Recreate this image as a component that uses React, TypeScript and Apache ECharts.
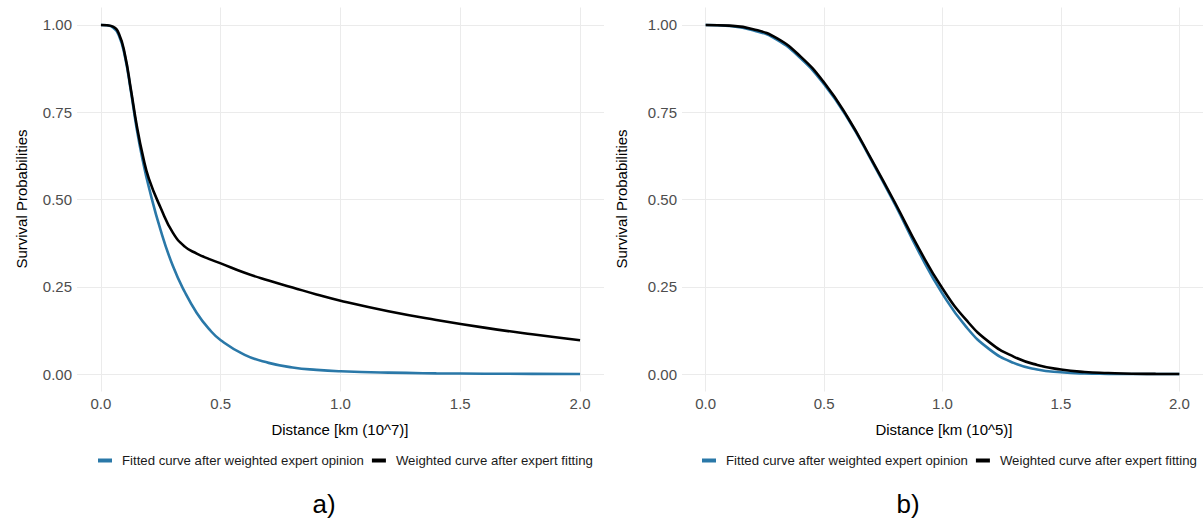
import React, { useEffect, useRef } from "react";
import * as echarts from "echarts";

// Panel a) distances (10^7 km)
const xA = [0, 0.025, 0.05, 0.075, 0.1, 0.125, 0.15, 0.175, 0.2, 0.25, 0.3, 0.35, 0.4, 0.45, 0.5, 0.6, 0.7, 0.8, 0.9, 1.0, 1.2, 1.4, 1.6, 1.8, 2.0];
const fittedA = [1.0, 0.999, 0.993, 0.97, 0.91, 0.81, 0.70, 0.61, 0.535, 0.41, 0.31, 0.235, 0.175, 0.13, 0.097, 0.055, 0.032, 0.019, 0.012, 0.008, 0.004, 0.002, 0.001, 0.0005, 0.0003];
const weightedA = [1.0, 0.999, 0.995, 0.975, 0.915, 0.815, 0.71, 0.625, 0.56, 0.475, 0.405, 0.365, 0.345, 0.33, 0.317, 0.29, 0.268, 0.248, 0.228, 0.21, 0.18, 0.155, 0.133, 0.114, 0.097];

// Panel b) distances (10^5 km)
const xB = [0, 0.1, 0.2, 0.3, 0.4, 0.5, 0.6, 0.7, 0.8, 0.9, 1.0, 1.1, 1.2, 1.3, 1.4, 1.5, 1.6, 1.7, 1.8, 1.9, 2.0];
const fittedB = [1.0, 0.997, 0.985, 0.958, 0.905, 0.83, 0.732, 0.612, 0.485, 0.35, 0.23, 0.135, 0.07, 0.032, 0.013, 0.005, 0.0015, 0.0005, 0.0001, 0, 0];
const weightedB = [1.0, 0.998, 0.988, 0.962, 0.91, 0.835, 0.735, 0.615, 0.49, 0.36, 0.245, 0.155, 0.09, 0.05, 0.026, 0.013, 0.006, 0.003, 0.001, 0.0005, 0.0002];

const xTicks = [0, 0.5, 1, 1.5, 2];
const yTicks = [0, 0.25, 0.5, 0.75, 1];
const seriesNames = ["Fitted curve after weighted expert opinion", "Weighted curve after expert fitting"];
const xTitles = ["Distance [km (10^7)]", "Distance [km (10^5)]"];
const yTitle = "Survival Probabilities";
const panelLabels = ["a)", "b)"];

const BLUE = "#2a78a8";
const FONT = "Liberation Sans, Arial, sans-serif";

const pairs = (xs: number[], ys: number[]) => xs.map((x, i) => [x, ys[i]]);

export default function App() {
  const ref = useRef<HTMLDivElement>(null);
  useEffect(() => {
    if (!ref.current) return;
    const chart = echarts.init(ref.current, null, { renderer: "svg" });
    const grids = [
      { left: 77, top: 7.5, width: 527, height: 384 },
      { left: 682, top: 7.5, width: 524, height: 384 },
    ];
    const xAxis = grids.map((_, i) => ({
      type: "value",
      gridIndex: i,
      min: -0.1,
      max: 2.1,
      axisLine: { show: false },
      axisTick: { show: false, customValues: xTicks },
      axisLabel: {
        customValues: xTicks,
        formatter: (v: number) => v.toFixed(1),
        color: "#4d4d4d",
        fontSize: 15,
        fontFamily: FONT,
        margin: 4,
      },
      splitLine: { show: true, lineStyle: { color: "#ebebeb", width: 1 } },
    }));
    const yAxis = grids.map((_, i) => ({
      type: "value",
      gridIndex: i,
      min: -0.05,
      max: 1.05,
      axisLine: { show: false },
      axisTick: { show: false, customValues: yTicks },
      axisLabel: {
        customValues: yTicks,
        formatter: (v: number) => v.toFixed(2),
        color: "#4d4d4d",
        fontSize: 15,
        fontFamily: FONT,
        margin: 5,
      },
      splitLine: { show: true, lineStyle: { color: "#ebebeb", width: 1 } },
    }));
    const mk = (name: string, data: number[][], idx: number, color: string) => ({
      name,
      type: "line",
      xAxisIndex: idx,
      yAxisIndex: idx,
      data,
      showSymbol: false,
      smooth: 0.5,
      lineStyle: { color, width: 2.6 },
      itemStyle: { color },
      z: color === BLUE ? 2 : 3,
    });
    const series = [
      mk(seriesNames[0], pairs(xA, fittedA), 0, BLUE),
      mk(seriesNames[1], pairs(xA, weightedA), 0, "#000000"),
      mk(seriesNames[0], pairs(xB, fittedB), 1, BLUE),
      mk(seriesNames[1], pairs(xB, weightedB), 1, "#000000"),
    ];
    const legendBase = {
      orient: "horizontal",
      top: 449,
      icon: "rect",
      itemWidth: 14,
      itemHeight: 4,
      itemGap: 8,
      data: seriesNames,
      textStyle: { fontSize: 13.2, color: "#1a1a1a", fontFamily: FONT, padding: [0, 0, 0, 5] },
      selectedMode: false,
    };
    const text = (t: string, x: number, y: number, size: number, rot = 0) => ({
      type: "text",
      x,
      y,
      rotation: rot,
      style: {
        text: t,
        fontSize: size,
        fontFamily: FONT,
        fill: "#000000",
        textAlign: "center",
        textVerticalAlign: "middle",
      },
    });
    chart.setOption({
      animation: false,
      backgroundColor: "#ffffff",
      grid: grids,
      xAxis,
      yAxis,
      series,
      legend: [
        { ...legendBase, left: 93 },
        { ...legendBase, left: 697 },
      ],
      graphic: [
        text(xTitles[0], 340, 429, 15),
        text(xTitles[1], 944, 429, 15),
        text(yTitle, 21, 199, 15, Math.PI / 2),
        text(yTitle, 621, 199, 15, Math.PI / 2),
        text(panelLabels[0], 324, 504, 26),
        text(panelLabels[1], 908, 504, 26),
      ],
    });
    return () => chart.dispose();
  }, []);
  return <div ref={ref} style={{ position: "absolute", left: 0, top: 0, width: 1203, height: 520 }} />;
}
